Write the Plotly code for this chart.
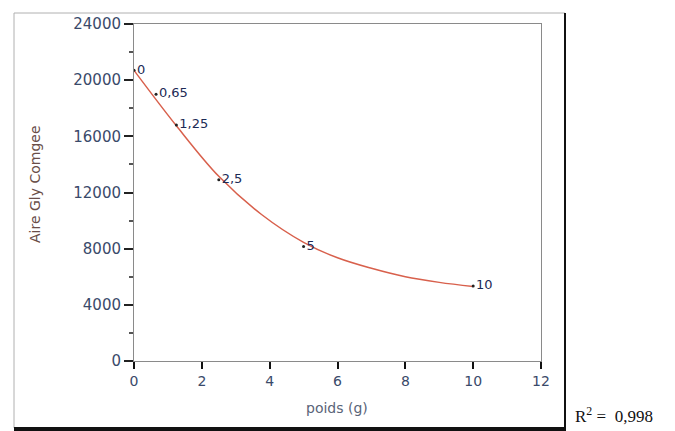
import plotly.graph_objects as go

# measured data points (labelled with the weight)
poids = [0, 0.65, 1.25, 2.5, 5, 10]
aire = [20700, 19000, 16800, 12900, 8150, 5350]
labels = ["0", "0,65", "1,25", "2,5", "5", "10"]

# fitted trend curve
fit_x = [0, 1.25, 2.5, 3.75, 5, 6, 7, 8, 9, 10]
fit_y = [20700, 16750, 13150, 10450, 8450, 7350, 6600, 6000, 5600, 5300]

x_ticks = [0, 2, 4, 6, 8, 10, 12]
y_ticks = [0, 4000, 8000, 12000, 16000, 20000, 24000]

L, R, T, B = 134, 134, 24, 70
W, H = 675, 431
pw, ph = W - L - R, H - T - B

def px(x):
    return (x - L) / pw

def py(y):
    return (H - B - y) / ph

fig = go.Figure()
fig.add_trace(go.Scatter(
    x=fit_x, y=fit_y, mode="lines",
    line=dict(color="#d8604c", width=1.5, shape="spline", smoothing=1.0),
    hoverinfo="skip", showlegend=False))
fig.add_trace(go.Scatter(
    x=poids, y=aire, mode="markers+text", text=labels, textposition="middle right",
    marker=dict(color="#222222", size=3),
    textfont=dict(family="DejaVu Sans", size=13, color="#1c2a55"),
    showlegend=False))

fig.update_layout(
    width=W, height=H, margin=dict(l=L, r=R, t=T, b=B),
    paper_bgcolor="white", plot_bgcolor="white",
    font=dict(family="DejaVu Sans", color="#3a4a6a"),
)
fig.update_xaxes(
    range=[0, 12], tickvals=x_ticks, ticktext=[str(v) for v in x_ticks],
    ticks="outside", ticklen=7, tickwidth=2, tickcolor="#111",
    showline=True, linecolor="#8a8a8a", linewidth=1, mirror=True, showgrid=False, zeroline=False,
    tickfont=dict(size=14, color="#3a4a6a"),
)
fig.update_yaxes(
    range=[0, 24000], tickvals=y_ticks, ticktext=[str(v) for v in y_ticks],
    ticks="outside", ticklen=9, tickwidth=1.5, tickcolor="#222",
    minor=dict(dtick=2000, ticks="outside", ticklen=4, tickcolor="#555"),
    showline=True, linecolor="#8a8a8a", linewidth=1, mirror=True, showgrid=False, zeroline=False,
    tickfont=dict(size=15, color="#3a4a6a"),
)

# axis titles
fig.add_annotation(xref="paper", yref="paper", x=px(337), y=py(408), xanchor="center", yanchor="middle",
                   text="poids (g)", showarrow=False,
                   font=dict(family="DejaVu Sans", size=14, color="#5a6478"))
fig.add_annotation(xref="paper", yref="paper", x=px(35), y=py(184), xanchor="center", yanchor="middle",
                   text="Aire Gly Comgee", showarrow=False, textangle=-90,
                   font=dict(family="DejaVu Sans", size=14, color="#6a4e48"))

# outer frame
fig.add_shape(type="rect", xref="paper", yref="paper",
              x0=px(14), x1=px(565), y0=py(428), y1=py(13),
              line=dict(color="#b0b0b0", width=1), layer="below")
fig.add_shape(type="line", xref="paper", yref="paper",
              x0=px(14), x1=px(566), y0=py(429), y1=py(429), line=dict(color="#111", width=4))
fig.add_shape(type="line", xref="paper", yref="paper",
              x0=px(565), x1=px(565), y0=py(13), y1=py(430), line=dict(color="#111", width=2))

fig.add_annotation(xref="paper", yref="paper", x=px(573), y=py(415), xanchor="left", yanchor="middle",
                   text="R<sup>2</sup> =  0,998", showarrow=False,
                   font=dict(family="Liberation Serif, Times New Roman", size=17, color="#111"))

fig.write_html("out.html")
